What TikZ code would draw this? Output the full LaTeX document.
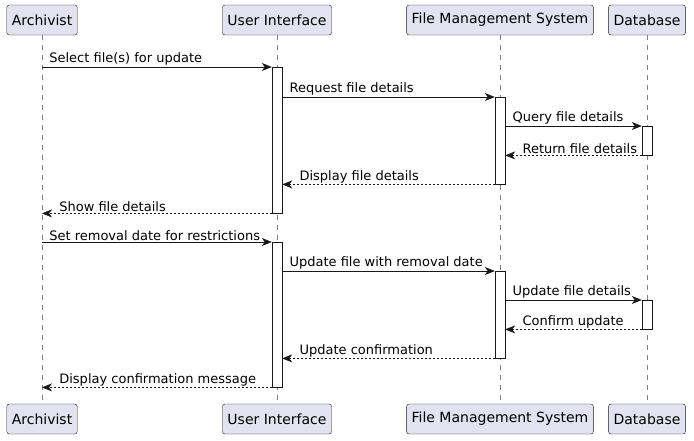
\documentclass[tikz,border=0pt]{standalone}
\usepackage{fontspec}
\setmainfont{DejaVu Sans}
\usepackage{tikz}
\usetikzlibrary{arrows.meta,positioning,calc}
\definecolor{umlfill}{HTML}{E2E2F0}
\definecolor{umlline}{HTML}{181818}

\begin{document}
\begin{tikzpicture}[
    x=1pt, y=-1pt,
    actor/.style={rectangle, draw=umlline, fill=umlfill, rounded corners=2.5pt, minimum height=30pt, inner xsep=5pt, font=\fontsize{14}{16}\selectfont},
    act/.style={rectangle, draw=umlline, fill=white, minimum width=10pt, inner sep=0pt, anchor=north},
    msg/.style={draw=umlline, line width=0.7pt, -{Stealth[length=10pt, width=8pt, inset=3pt]}},
    reply/.style={msg, dash pattern=on 2pt off 2pt},
    life/.style={draw=gray, line width=0.6pt, dash pattern=on 5pt off 5pt},
    lbl/.style={font=\fontsize{13}{15}\selectfont, inner sep=1pt, anchor=south west}
]
    \useasboundingbox (0,0) rectangle (694,440);

    % participants
    \node[actor] (archT) at (42,20) {Archivist};
    \node[actor] (uiT) at (277,20) {User Interface};
    \node[actor] (fmsT) at (500,20) {File Management System};
    \node[actor] (dbT) at (647,20) {Database};
    \node[actor] (archB) at (42,419) {Archivist};
    \node[actor] (uiB) at (277,419) {User Interface};
    \node[actor] (fmsB) at (500,419) {File Management System};
    \node[actor] (dbB) at (647,419) {Database};

    \foreach \p in {arch,ui,fms,db}
        \draw[life] (\p T.south) -- (\p B.north);

    % activations
    \node[act, minimum height=146pt] (ui1) at (277,67) {};
    \node[act, minimum height=87pt] (fms1) at (500,97) {};
    \node[act, minimum height=29pt] (db1) at (647,126) {};
    \node[act, minimum height=145pt] (ui2) at (277,242) {};
    \node[act, minimum height=87pt] (fms2) at (500,271) {};
    \node[act, minimum height=29pt] (db2) at (647,300) {};

    % first round
    \draw[msg] (archT |- ui1.north) -- (ui1.north west)
        node[lbl, at start, xshift=6pt] {Select file(s) for update};
    \draw[msg] (ui1.east |- fms1.north) -- (fms1.north west)
        node[lbl, at start, xshift=6pt] {Request file details};
    \draw[msg] (fms1.east |- db1.north) -- (db1.north west)
        node[lbl, at start, xshift=6pt] {Query file details};
    \draw[reply] (db1.south west) -- (fms1.east |- db1.south)
        node[lbl, at end, xshift=16pt] {Return file details};
    \draw[reply] (fms1.south west) -- (ui1.east |- fms1.south)
        node[lbl, at end, xshift=16pt] {Display file details};
    \draw[reply] (ui1.south west) -- (archT |- ui1.south)
        node[lbl, at end, xshift=16pt] {Show file details};

    % second round
    \draw[msg] (archT |- ui2.north) -- (ui2.north west)
        node[lbl, at start, xshift=6pt] {Set removal date for restrictions};
    \draw[msg] (ui2.east |- fms2.north) -- (fms2.north west)
        node[lbl, at start, xshift=6pt] {Update file with removal date};
    \draw[msg] (fms2.east |- db2.north) -- (db2.north west)
        node[lbl, at start, xshift=6pt] {Update file details};
    \draw[reply] (db2.south west) -- (fms2.east |- db2.south)
        node[lbl, at end, xshift=16pt] {Confirm update};
    \draw[reply] (fms2.south west) -- (ui2.east |- fms2.south)
        node[lbl, at end, xshift=16pt] {Update confirmation};
    \draw[reply] (ui2.south west) -- (archT |- ui2.south)
        node[lbl, at end, xshift=16pt] {Display confirmation message};
\end{tikzpicture}
\end{document}
